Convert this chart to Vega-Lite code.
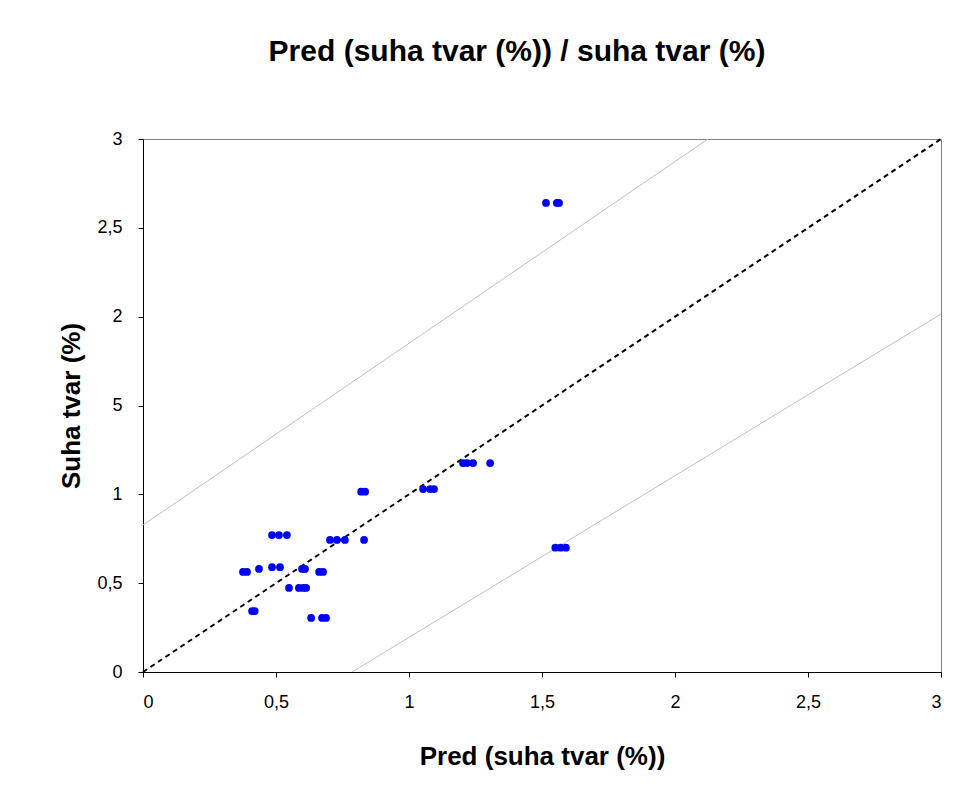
{
  "$schema": "https://vega.github.io/schema/vega-lite/v6.json",
  "autosize": {"type": "none"},
  "width": 798,
  "height": 533,
  "padding": {"left": 143, "top": 139, "right": 31, "bottom": 132},
  "background": "white",
  "title": {
    "text": "Pred (suha tvar (%)) / suha tvar (%)",
    "font": "Liberation Sans",
    "fontSize": 30,
    "fontWeight": "bold",
    "color": "black",
    "anchor": "middle",
    "frame": "group",
    "dx": -25,
    "offset": 63
  },
  "config": {
    "view": {"stroke": "#808080", "strokeWidth": 1},
    "axis": {
      "grid": false,
      "domainColor": "black",
      "tickColor": "black",
      "tickSize": 5,
      "labelFont": "Liberation Sans",
      "labelFontSize": 18,
      "labelColor": "black",
      "titleFont": "Liberation Sans",
      "titleFontSize": 26,
      "titleFontWeight": "bold",
      "titleColor": "black"
    }
  },
  "datasets": {
    "pts": [
      {"pred": 1.515, "actual": 2.64}, {"pred": 1.556, "actual": 2.64}, {"pred": 1.564, "actual": 2.64},
      {"pred": 1.55, "actual": 0.70}, {"pred": 1.57, "actual": 0.70}, {"pred": 1.59, "actual": 0.70},
      {"pred": 0.82, "actual": 1.015}, {"pred": 0.835, "actual": 1.015},
      {"pred": 0.485, "actual": 0.771}, {"pred": 0.511, "actual": 0.771}, {"pred": 0.541, "actual": 0.771},
      {"pred": 0.703, "actual": 0.743}, {"pred": 0.729, "actual": 0.743}, {"pred": 0.759, "actual": 0.743}, {"pred": 0.831, "actual": 0.743},
      {"pred": 0.376, "actual": 0.563}, {"pred": 0.391, "actual": 0.563},
      {"pred": 0.436, "actual": 0.58},
      {"pred": 0.485, "actual": 0.59}, {"pred": 0.515, "actual": 0.59},
      {"pred": 0.598, "actual": 0.58}, {"pred": 0.609, "actual": 0.58},
      {"pred": 0.662, "actual": 0.563}, {"pred": 0.677, "actual": 0.563},
      {"pred": 0.549, "actual": 0.473},
      {"pred": 0.586, "actual": 0.473}, {"pred": 0.602, "actual": 0.473}, {"pred": 0.613, "actual": 0.473},
      {"pred": 0.41, "actual": 0.343}, {"pred": 0.42, "actual": 0.343},
      {"pred": 0.632, "actual": 0.304}, {"pred": 0.673, "actual": 0.304}, {"pred": 0.688, "actual": 0.304},
      {"pred": 1.053, "actual": 1.03}, {"pred": 1.079, "actual": 1.03}, {"pred": 1.094, "actual": 1.03},
      {"pred": 1.203, "actual": 1.176}, {"pred": 1.218, "actual": 1.176}, {"pred": 1.241, "actual": 1.176}, {"pred": 1.305, "actual": 1.176}
    ],
    "bands": [
      {"series": "upper", "pred": 0, "actual": 0.827},
      {"series": "upper", "pred": 2.124, "actual": 3},
      {"series": "lower", "pred": 0.786, "actual": 0},
      {"series": "lower", "pred": 3, "actual": 2.015}
    ],
    "diag": [
      {"pred": 0, "actual": 0},
      {"pred": 3, "actual": 3}
    ]
  },
  "encoding": {
    "x": {
      "field": "pred", "type": "quantitative",
      "scale": {"domain": [0, 3], "nice": false},
      "axis": {
        "title": "Pred (suha tvar (%))",
        "values": [0, 0.5, 1, 1.5, 2, 2.5, 3],
        "labelExpr": "replace(format(datum.value, '~g'), '.', ',')",
        "labelPadding": 16,
        "titlePadding": 32
      }
    },
    "y": {
      "field": "actual", "type": "quantitative",
      "scale": {"domain": [0, 3], "nice": false},
      "axis": {
        "title": "Suha tvar (%)",
        "values": [0, 0.5, 1, 1.5, 2, 2.5, 3],
        "labelExpr": "datum.value == 1.5 ? '5' : replace(format(datum.value, '~g'), '.', ',')",
        "labelPadding": 16,
        "titlePadding": 12
      }
    }
  },
  "layer": [
    {
      "data": {"name": "bands"},
      "mark": {"type": "line", "color": "#c0c0c0", "strokeWidth": 1, "clip": true},
      "encoding": {"detail": {"field": "series"}}
    },
    {
      "data": {"name": "diag"},
      "mark": {"type": "line", "color": "black", "strokeWidth": 2, "strokeDash": [5, 4]},
      "encoding": {}
    },
    {
      "data": {"name": "pts"},
      "mark": {"type": "circle", "color": "#0000ff", "opacity": 1, "size": 60},
      "encoding": {}
    }
  ]
}
